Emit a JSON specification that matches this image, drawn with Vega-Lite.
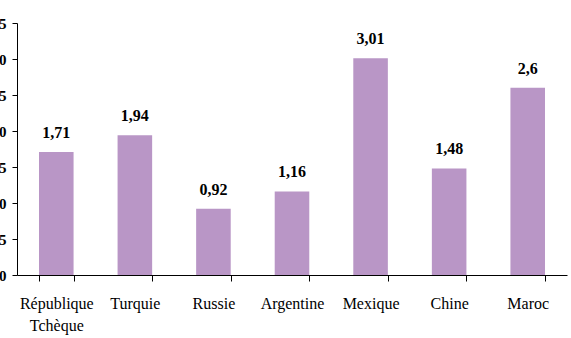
{
  "$schema": "https://vega.github.io/schema/vega-lite/v6.json",
  "autosize": "none",
  "width": 550,
  "height": 252,
  "padding": {"left": 17, "top": 23, "right": 4, "bottom": 63},
  "background": "white",
  "config": {
    "view": {"stroke": null},
    "locale": {"number": {"decimal": ",", "thousands": " ", "grouping": [3], "currency": ["", " €"]}},
    "font": "Liberation Serif"
  },
  "data": {
    "values": [
      {"pays": "République Tchèque", "valeur": 1.71},
      {"pays": "Turquie", "valeur": 1.94},
      {"pays": "Russie", "valeur": 0.92},
      {"pays": "Argentine", "valeur": 1.16},
      {"pays": "Mexique", "valeur": 3.01},
      {"pays": "Chine", "valeur": 1.48},
      {"pays": "Maroc", "valeur": 2.6}
    ]
  },
  "encoding": {
    "x": {
      "field": "pays",
      "type": "nominal",
      "sort": null,
      "scale": {"paddingInner": 0.56, "paddingOuter": 0.28},
      "axis": {
        "title": null,
        "labelAngle": 0,
        "labelFont": "Liberation Serif",
        "labelFontSize": 16,
        "labelFontWeight": "normal",
        "labelColor": "#000000",
        "labelPadding": 14,
        "labelBaseline": "top",
        "labelLineHeight": 22,
        "labelLimit": 200,
        "labelExpr": "datum.label == 'République Tchèque' ? ['République', 'Tchèque'] : datum.label",
        "tickBand": "extent",
        "tickSize": 6,
        "tickColor": "#000000",
        "domainColor": "#000000",
        "grid": false
      }
    },
    "y": {
      "field": "valeur",
      "type": "quantitative",
      "scale": {"domain": [0, 3.5], "nice": false},
      "axis": {
        "title": null,
        "values": [0, 0.5, 1, 1.5, 2, 2.5, 3, 3.5],
        "format": ".1f",
        "labelFont": "Liberation Serif",
        "labelFontSize": 15,
        "labelFontWeight": "bold",
        "labelColor": "#000000",
        "labelPadding": 6,
        "tickSize": 5,
        "tickColor": "#000000",
        "domainColor": "#000000",
        "grid": false
      }
    }
  },
  "layer": [
    {"mark": {"type": "bar", "color": "#b996c6"}},
    {
      "mark": {"type": "text", "font": "Liberation Serif", "fontSize": 16, "fontWeight": "bold", "baseline": "alphabetic", "dy": -14, "color": "#000000"},
      "encoding": {"text": {"field": "valeur", "type": "quantitative", "format": "~g"}}
    }
  ]
}
